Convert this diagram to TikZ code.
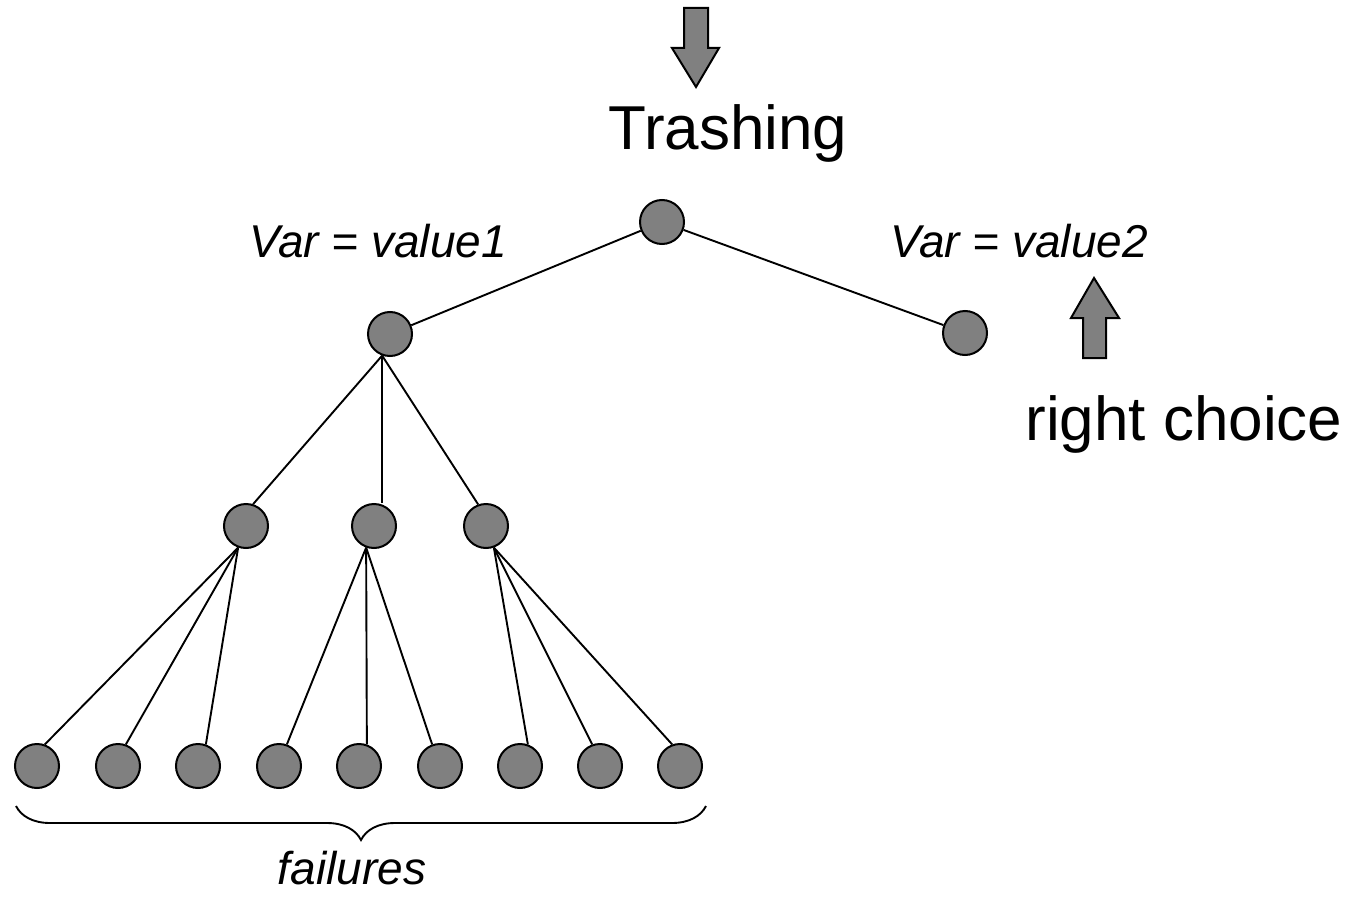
\documentclass[tikz,border=0pt]{standalone}
\usepackage{fontspec}
\setmainfont{Liberation Sans}
\usetikzlibrary{decorations.pathreplacing}
\begin{document}
\begin{tikzpicture}[x=1pt,y=-1pt,
  vert/.style={circle,draw=black,fill=black!50,line width=2pt,minimum size=44pt,inner sep=0pt},
  edge/.style={line width=1.9pt},
  blockarrow/.style={draw=black,fill=black!50,line width=2pt,line join=miter},
  big/.style={font=\fontsize{62}{62}\selectfont,inner sep=0pt,anchor=base},
  lab/.style={font=\fontsize{46}{46}\selectfont\itshape,inner sep=0pt,anchor=base}]
\useasboundingbox (0,0) rectangle (1355,899);

% block arrow into the title
\draw[blockarrow] (684,8) -- (708,8) -- (708,48) -- (719,48) -- (696,87) -- (672,48) -- (684,48) -- cycle;
\node[big] (title) at (728,149) {Trashing};

% search tree
\node[vert] (r) at (662,222) {};
\node[vert] (a) at (390,334) {};
\node[vert] (b) at (965,333) {};
\node[vert] (c1) at (246,526) {};
\node[vert] (c2) at (374,526) {};
\node[vert] (c3) at (486,526) {};
\foreach \i/\x in {1/37,2/118,3/198,4/279,5/359,6/440,7/520,8/600,9/680}
  \node[vert] (l\i) at (\x,766) {};

\draw[edge] (r) -- (a);
\draw[edge] (r) -- (b);
\draw[edge] (a.250) -- (c1.72);
\draw[edge] (a.250) -- (c2.north -| a.250);
\draw[edge] (a.250) -- (c3.110);
\foreach \i in {1,2,3} \draw[edge] (c1.250) -- (l\i.70);
\foreach \i/\e in {4/70,5/70,6/110} \draw[edge] (c2.250) -- (l\i.\e);
\foreach \i/\e in {7/70,8/110,9/110} \draw[edge] (c3.290) -- (l\i.\e);

\node[lab] (v1) at (378,257) {Var = value1};
\node[lab] (v2) at (1019,257) {Var = value2};

% block arrow pointing at the right branch
\draw[blockarrow] (1094,278) -- (1119,318) -- (1106,318) -- (1106,358) -- (1083,358) -- (1083,318) -- (1071,318) -- cycle;
\node[big] (rc) at (1184,440) {right choice};

% brace under the leaves
\coordinate (bl) at (16,806);
\coordinate (br) at (706,806);
\draw[line width=1.9pt,decorate,decoration={brace,mirror,amplitude=34pt,aspect=0.5}] (bl) -- (br);
\node[lab] (fail) at (352,884) {failures};
\end{tikzpicture}
\end{document}
